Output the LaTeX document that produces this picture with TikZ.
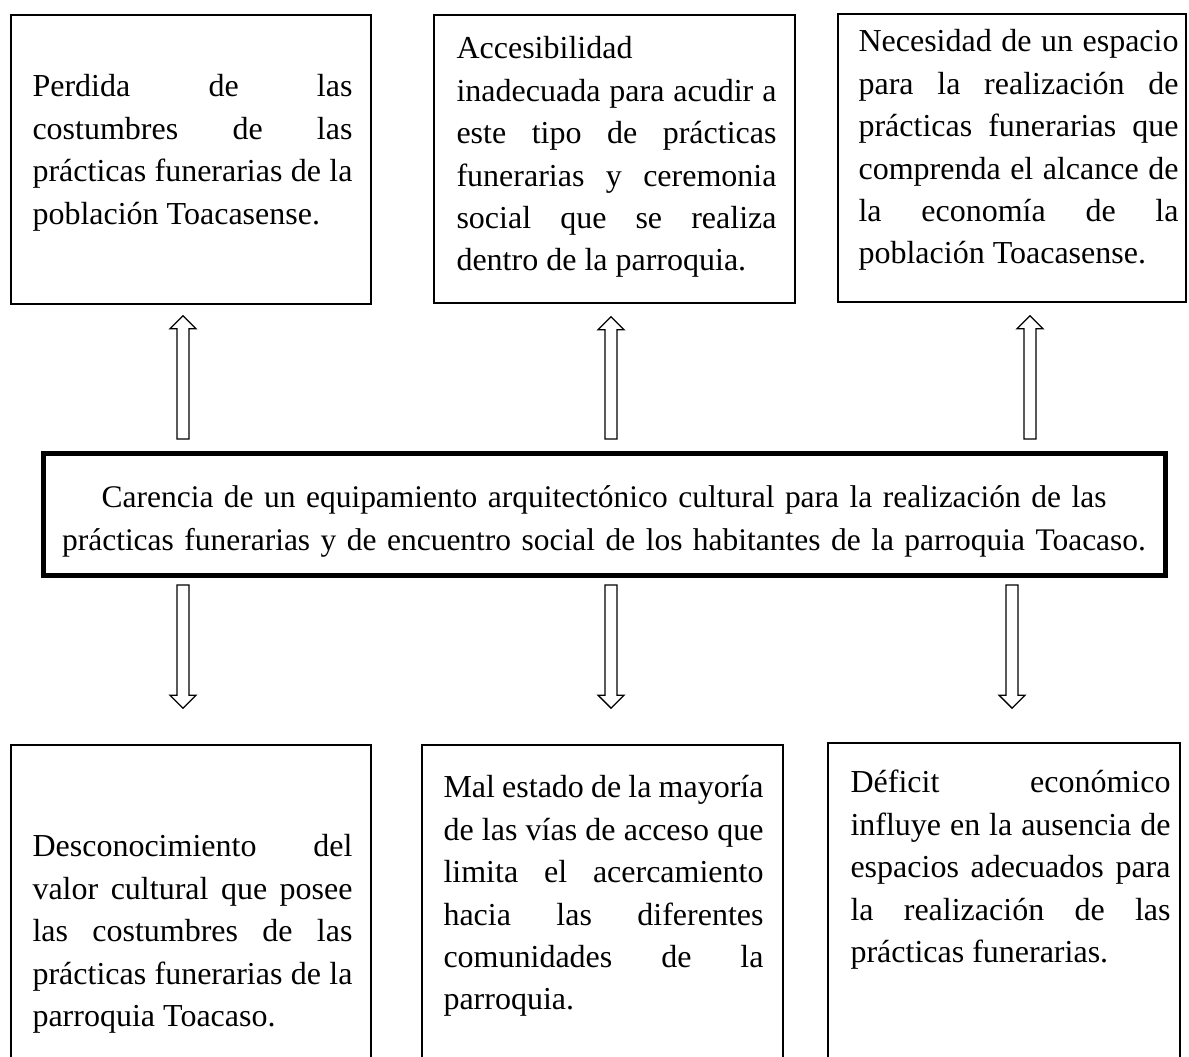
\documentclass[tikz,border=0pt]{standalone}
\usepackage{fontspec}
\setmainfont{Liberation Serif}
\usetikzlibrary{calc,fit}
\hyphenpenalty=10000
\exhyphenpenalty=10000

\begin{document}
\begin{tikzpicture}[x=0.375pt, y=-0.375pt,
    box/.style={draw, line width=0.6pt, inner sep=0pt},
    txt/.style={anchor=base west, inner sep=0pt, text width=120pt, align=justify,
        font=\fontsize{12}{15.9}\selectfont},
    blockarrow/.style={line width=0.5pt, to path={
        -- ($(\tikztostart)!2.25pt!90:(\tikztotarget)$)
        -- ($(\tikztotarget)!4.875pt!(\tikztostart)!2.25pt!90:(\tikztotarget)$)
        -- ($(\tikztotarget)!4.875pt!(\tikztostart)!4.875pt!90:(\tikztotarget)$)
        -- (\tikztotarget)
        -- ($(\tikztotarget)!4.875pt!(\tikztostart)!4.875pt!-90:(\tikztotarget)$)
        -- ($(\tikztotarget)!4.875pt!(\tikztostart)!2.25pt!-90:(\tikztotarget)$)
        -- ($(\tikztostart)!2.25pt!-90:(\tikztotarget)$)
        -- cycle}}]

    \clip (0,0) rectangle (1189,1057);

    % effects (top row)
    \node[box, fit={(11,15) (371,304)}] (tl) {};
    \node[box, fit={(434,15) (795,303)}] (tm) {};
    \node[box, fit={(838,14) (1186,302)}] (tr) {};

    \node[txt] (tltext) at (32,97) {Perdida de las\linebreak costumbres de las\linebreak prácticas funerarias de la\linebreak población Toacasense.};
    \node[txt] (tmtext) at (456,59) {Accesibilidad\linebreak inadecuada para acudir a\linebreak este tipo de prácticas\linebreak funerarias y ceremonia\linebreak social que se realiza\linebreak dentro de la parroquia.};
    \node[txt] (trtext) at (858,52) {Necesidad de un espacio\linebreak para la realización de\linebreak prácticas funerarias que\linebreak comprenda el alcance de\linebreak la economía de la\linebreak población Toacasense.};

    % central problem
    \node[box, line width=1.9pt, fit={(43.5,453.5) (1165.5,575.5)}] (mid) {};
    \node[anchor=base, inner sep=0pt, text width=420pt, align=center,
        font=\fontsize{11.8}{15.9}\selectfont] (midtext) at (604,508)
        {Carencia de un equipamiento arquitectónico cultural para la realización de las\\
         prácticas funerarias y de encuentro social de los habitantes de la parroquia Toacaso.};

    % causes (bottom row)
    \node[box, fit={(11,745) (371,1100)}] (bl) {};
    \node[box, fit={(422,745) (783,1100)}] (bm) {};
    \node[box, fit={(828,743) (1180,1100)}] (br) {};

    \node[txt] (bltext) at (32,857) {Desconocimiento del\linebreak valor cultural que posee\linebreak las costumbres de las\linebreak prácticas funerarias de la\linebreak parroquia Toacaso.};
    \node[txt] (bmtext) at (443,798) {Mal estado de la mayoría\linebreak de las vías de acceso que\linebreak limita el acercamiento\linebreak hacia las diferentes\linebreak comunidades de la\linebreak parroquia.};
    \node[txt] (brtext) at (850,793) {Déficit económico\linebreak influye en la ausencia de\linebreak espacios adecuados para\linebreak la realización de las\linebreak prácticas funerarias.};

    % arrows up to the effects
    \draw[blockarrow] ($(mid.north -| 183,0)+(0,-12)$) to ($(tl.south -| 183,0)+(0,11)$);
    \draw[blockarrow] ($(mid.north -| 611,0)+(0,-12)$) to ($(tm.south -| 611,0)+(0,13)$);
    \draw[blockarrow] ($(mid.north -| 1030,0)+(0,-12)$) to ($(tr.south -| 1030,0)+(0,13)$);

    % arrows down to the causes
    \draw[blockarrow] ($(mid.south -| 183,0)+(0,7)$) to ($(bl.north -| 183,0)+(0,-36)$);
    \draw[blockarrow] ($(mid.south -| 611,0)+(0,7)$) to ($(bm.north -| 611,0)+(0,-36)$);
    \draw[blockarrow] ($(mid.south -| 1012,0)+(0,7)$) to ($(br.north -| 1012,0)+(0,-34)$);
\end{tikzpicture}
\end{document}
